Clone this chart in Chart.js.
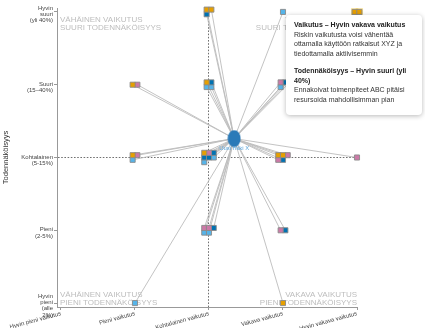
<!DOCTYPE html>
<html lang="fi">
<head>
<meta charset="utf-8">
<title>Riskimatriisi</title>
<script src="https://cdn.jsdelivr.net/npm/chart.js@4.4.1/dist/chart.umd.min.js"></script>
<style>
  html, body { margin: 0; padding: 0; background: #fff; }
  #wrap { position: relative; width: 425px; height: 328px; overflow: hidden; }
  #riskChart { display: block; }
  .info-box {
    position: absolute;
    left: 286px;
    top: 15px;
    width: 120px;
    padding: 5px 8px 10px 8px;
    background: #fff;
    border-radius: 4px;
    box-shadow: 0 1px 5px rgba(0, 0, 0, 0.28);
    font-family: "Liberation Sans", Arial, sans-serif;
    font-size: 7px;
    line-height: 9.7px;
    color: #333;
    white-space: nowrap;
  }
  .info-box b { color: #222; }
  .info-box .part { margin-top: 7px; }
</style>
</head>
<body>
<div id="wrap">
  <canvas id="riskChart" width="425" height="328"></canvas>
  <div class="info-box">
    <b>Vaikutus – Hyvin vakava vaikutus</b><br>
    Riskin vaikutusta voisi vähentää<br>
    ottamalla käyttöön ratkaisut XYZ ja<br>
    tiedottamalla aktiivisemmin
    <div class="part">
      <b>Todennäköisyys – Hyvin suuri (yli<br>40%)</b><br>
      Ennakoivat toimenpiteet ABC pitäisi<br>
      resursoida mahdollisimman pian
    </div>
  </div>
</div>
<script>
// Akselien luokat
const impactLabels = ['Hyvin pieni vaikutus', 'Pieni vaikutus', 'Kohtalainen vaikutus', 'Vakava vaikutus', 'Hyvin vakava vaikutus'];
const probabilityLabels = [
    ['Hyvin', 'pieni', '(alle', '2%)'],
    ['Pieni', '(2-5%)'],
    ['Kohtalainen', '(5-15%)'],
    ['Suuri', '(15–40%)'],
    ['Hyvin', 'suuri', '(yli 40%)']
];

// Riskit: vaikutus (0-4), todennäköisyys (0-4), ryhmä (väri)
const riskImpact      = [2, 2, 2, 3, 4, 4, 1, 1, 2, 2, 2, 2, 3, 3, 3, 1, 1, 1, 2, 2, 2, 2, 2, 2, 2, 3, 3, 3, 3, 3, 4, 2, 2, 2, 2, 2, 3, 3, 1, 3];
const riskProbability = [4, 4, 4, 4, 4, 4, 3, 3, 3, 3, 3, 3, 3, 3, 3, 2, 2, 2, 2, 2, 2, 2, 2, 2, 2, 2, 2, 2, 2, 2, 2, 1, 1, 1, 1, 1, 1, 1, 0, 0];
const riskGroup       = [0, 0, 2, 3, 0, 0, 0, 1, 0, 2, 3, 3, 1, 2, 3, 0, 1, 3, 0, 1, 2, 2, 2, 3, 3, 0, 0, 1, 1, 2, 1, 1, 1, 2, 3, 3, 1, 2, 3, 0];

// Valittu solu (hover-korostus)
const selectedImpact = 4;
const selectedProbability = 4;

// Uusi riski (verkon keskisolmu)
const newRiskName = 'Uusi riski X';
const newRiskImpact = 2.34;
const newRiskProbability = 2.26;

const groupColors = ['#E69F00', '#CC79A7', '#0072B2', '#56B4E9'];

const quadrantTexts = {
    topLeft: ['VÄHÄINEN VAIKUTUS', 'SUURI TODENNÄKÖISYYS'],
    topRight: ['VAKAVA VAIKUTUS', 'SUURI TODENNÄKÖISYYS'],
    bottomLeft: ['VÄHÄINEN VAIKUTUS', 'PIENI TODENNÄKÖISYYS'],
    bottomRight: ['VAKAVA VAIKUTUS', 'PIENI TODENNÄKÖISYYS']
};

const FONT = '"Liberation Sans", Arial, sans-serif';
const STEP = 0.064; // ruudukon väli saman solun riskeille

/**
 * Sijoittaa saman solun riskit pieneen ruudukkoon solun keskipisteen ympärille
 */
function buildRiskPoints() {
    const clusters = {};
    riskImpact.forEach((imp, i) => {
        const key = imp + '_' + riskProbability[i];
        (clusters[key] = clusters[key] || []).push(i);
    });
    const points = [];
    Object.values(clusters).forEach(list => {
        const cols = Math.ceil(Math.sqrt(list.length));
        const rows = Math.ceil(list.length / cols);
        list.forEach((idx, k) => {
            const c = k % cols;
            const r = Math.floor(k / cols);
            points[idx] = {
                x: riskImpact[idx] + (c - (cols - 1) / 2) * STEP,
                y: riskProbability[idx] - (r - (rows - 1) / 2) * STEP
            };
        });
    });
    return points;
}

function makeNodeImage() {
    const c = document.createElement('canvas');
    c.width = 14;
    c.height = 18;
    const g = c.getContext('2d');
    g.fillStyle = '#2a7ab8';
    g.beginPath();
    g.ellipse(7, 9, 6.5, 8.5, 0, 0, Math.PI * 2);
    g.fill();
    return c;
}

const points = buildRiskPoints();
const center = { x: newRiskImpact, y: newRiskProbability };

const datasets = [];

// keskisolmu
datasets.push({
    label: newRiskName,
    data: [center],
    pointStyle: makeNodeImage(),
    pointRadius: 7,
    order: 0,
    clip: false
});

// riskit ryhmittäin
groupColors.forEach((color, g) => {
    datasets.push({
        label: 'Ryhmä ' + (g + 1),
        data: points.filter((p, i) => riskGroup[i] === g),
        pointStyle: 'rect',
        pointRadius: 3.6,
        backgroundColor: color,
        borderColor: '#8a8a8a',
        borderWidth: 0.9,
        order: 1,
        clip: false
    });
});

// korostus valitulle solulle
datasets.push({
    label: 'korostus',
    data: points.filter((p, i) => riskImpact[i] === selectedImpact && riskProbability[i] === selectedProbability),
    pointStyle: 'rect',
    pointRadius: 5.2,
    backgroundColor: 'rgba(246, 200, 60, 0.55)',
    borderWidth: 0,
    order: 2,
    clip: false
});

// yhteysviivat
points.forEach((p, i) => {
    datasets.push({
        label: 'linkki ' + i,
        data: [center, p],
        showLine: true,
        borderColor: '#bcbcbc',
        borderWidth: 0.9,
        pointRadius: 0,
        order: 3,
        clip: false
    });
});

const quadrantPlugin = {
    id: 'quadrants',
    beforeDatasetsDraw(chart) {
        const { ctx, chartArea: a } = chart;
        ctx.save();
        ctx.font = '8px ' + FONT;
        ctx.fillStyle = '#bdbdbd';
        ctx.textBaseline = 'alphabetic';
        ctx.textAlign = 'left';
        ctx.fillText(quadrantTexts.topLeft[0], a.left + 3, a.top + 14);
        ctx.fillText(quadrantTexts.topLeft[1], a.left + 3, a.top + 22);
        ctx.fillText(quadrantTexts.bottomLeft[0], a.left + 3, a.bottom - 10);
        ctx.fillText(quadrantTexts.bottomLeft[1], a.left + 3, a.bottom - 2);
        ctx.textAlign = 'right';
        ctx.fillText(quadrantTexts.topRight[0], a.right, a.top + 14);
        ctx.fillText(quadrantTexts.topRight[1], a.right, a.top + 22);
        ctx.fillText(quadrantTexts.bottomRight[0], a.right, a.bottom - 10);
        ctx.fillText(quadrantTexts.bottomRight[1], a.right, a.bottom - 2);
        ctx.restore();
    }
};

const nodeLabelPlugin = {
    id: 'nodeLabel',
    afterDatasetsDraw(chart) {
        const el = chart.getDatasetMeta(0).data[0];
        if (!el) return;
        const { ctx } = chart;
        ctx.save();
        ctx.font = '6px ' + FONT;
        ctx.fillStyle = '#5aa6dc';
        ctx.textAlign = 'center';
        ctx.textBaseline = 'middle';
        ctx.fillText(newRiskName, el.x, el.y + 10);
        ctx.restore();
    }
};

const fixedTicks = axis => {
    axis.ticks = [0, 1, 2, 3, 4].map(v => ({ value: v }));
};

const gridColor = ctx => (ctx.tick && ctx.tick.value === 2 ? '#707070' : 'rgba(0,0,0,0)');

new Chart(document.getElementById('riskChart'), {
    type: 'scatter',
    data: { datasets: datasets },
    options: {
        responsive: false,
        animation: false,
        devicePixelRatio: 1,
        events: [],
        layout: { padding: { top: 3, right: 68, bottom: 0, left: 0 } },
        plugins: {
            legend: { display: false },
            tooltip: { enabled: false }
        },
        scales: {
            x: {
                type: 'linear',
                min: -0.054,
                max: 4,
                afterBuildTicks: fixedTicks,
                afterFit: s => {
                    s.height = 21;
                    s.paddingLeft = 0;
                    s.paddingRight = 0;
                },
                ticks: {
                    autoSkip: false,
                    minRotation: 15,
                    maxRotation: 15,
                    padding: 0,
                    color: '#444',
                    font: { family: FONT, size: 6 },
                    callback: v => impactLabels[v]
                },
                grid: {
                    color: gridColor,
                    lineWidth: 1,
                    tickColor: '#999',
                    tickLength: 3
                },
                border: { color: '#999', width: 1, dash: [1.6, 1.6] }
            },
            y: {
                type: 'linear',
                min: -0.054,
                max: 4.054,
                afterBuildTicks: fixedTicks,
                afterFit: s => {
                    s.width = 57;
                    s.paddingTop = 0;
                    s.paddingBottom = 0;
                },
                title: {
                    display: true,
                    text: 'Todennäköisyys',
                    color: '#333',
                    font: { family: FONT, size: 7.5 },
                    padding: { top: 1, bottom: 2 }
                },
                ticks: {
                    autoSkip: false,
                    padding: 1,
                    labelOffset: 2.5,
                    color: '#444',
                    font: { family: FONT, size: 6, lineHeight: 1.05 },
                    callback: v => probabilityLabels[v]
                },
                grid: {
                    color: gridColor,
                    lineWidth: 1,
                    tickColor: '#999',
                    tickLength: 3
                },
                border: { color: '#999', width: 1, dash: [1.6, 1.6] }
            }
        }
    },
    plugins: [quadrantPlugin, nodeLabelPlugin]
});
</script>
</body>
</html>
